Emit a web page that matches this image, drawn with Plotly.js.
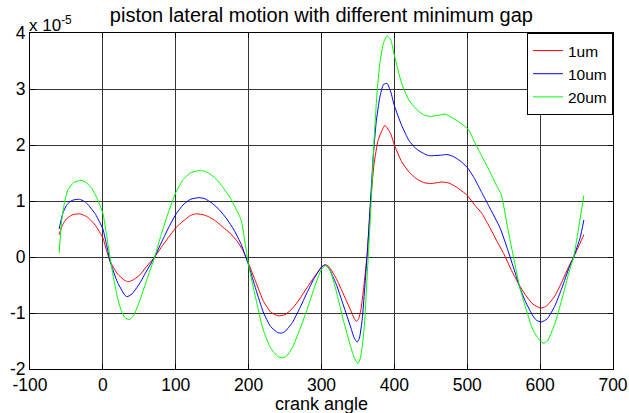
<!DOCTYPE html>
<html>
<head>
<meta charset="utf-8">
<script src="https://cdn.plot.ly/plotly-3.0.1.min.js"></script>
<style>html,body{margin:0;padding:0;background:#fff;}#chart{width:629px;height:413px;}</style>
</head>
<body>
<div id="chart"></div>
<script>
// values in units of 1e-5
const redX = [-60,-55,-50,-45,-40,-32,-25,-20,-10,0,5,10,20,30,35,40,50,60,71,80,90,100,110,120,127,136,145,155,165,175,185,192,200,210,220,230,240,250,260,270,280,290,300,305,310,320,330,340,345,348,351,354,358,363,367,372,378,387,395,400,410,420,430,440,450,460,465,475,485,500,510,520,530,540,550,560,570,580,590,600,605,610,620,630,640,646,655,660];
const redY = [0.40,0.58,0.68,0.73,0.76,0.77,0.74,0.70,0.56,0.34,0.12,-0.08,-0.30,-0.42,-0.44,-0.42,-0.33,-0.17,0.00,0.17,0.35,0.52,0.64,0.74,0.77,0.76,0.72,0.64,0.53,0.42,0.27,0.12,-0.12,-0.45,-0.78,-0.98,-1.05,-1.03,-0.92,-0.75,-0.55,-0.36,-0.18,-0.14,-0.17,-0.38,-0.66,-0.95,-1.10,-1.15,-1.10,-0.95,-0.54,0.10,0.90,1.65,2.10,2.35,2.20,2.00,1.70,1.52,1.40,1.33,1.31,1.33,1.34,1.32,1.25,1.10,0.93,0.78,0.55,0.30,0.06,-0.22,-0.47,-0.68,-0.84,-0.91,-0.90,-0.86,-0.70,-0.44,-0.15,0.00,0.25,0.40];

const blueX = [-60,-55,-50,-45,-40,-32,-25,-20,-10,0,5,10,20,30,33,40,50,60,71,80,90,100,110,120,132,140,150,160,170,180,190,200,210,220,230,240,245,250,260,270,280,290,300,305,310,320,330,340,345,349,352,356,359,363,367,371,375,380,385,390,395,400,410,420,430,440,447,455,465,472,480,490,500,510,520,530,545,555,565,572,580,590,595,602,610,620,630,640,646,655,660];
const blueY = [0.50,0.78,0.92,0.99,1.02,1.03,0.99,0.93,0.76,0.50,0.22,-0.08,-0.45,-0.68,-0.71,-0.66,-0.48,-0.25,0.00,0.25,0.52,0.76,0.93,1.03,1.06,1.04,0.96,0.84,0.68,0.48,0.22,-0.15,-0.58,-0.98,-1.24,-1.35,-1.36,-1.33,-1.17,-0.92,-0.64,-0.38,-0.18,-0.14,-0.20,-0.48,-0.86,-1.25,-1.45,-1.52,-1.45,-1.10,-0.60,0.10,0.95,1.80,2.40,2.85,3.08,3.10,2.95,2.70,2.35,2.08,1.93,1.85,1.81,1.81,1.82,1.83,1.80,1.72,1.60,1.40,1.15,0.90,0.52,0.15,-0.25,-0.54,-0.80,-1.05,-1.13,-1.16,-1.10,-0.88,-0.55,-0.18,0.00,0.35,0.66];

const greenX = [-60,-57,-53,-48,-40,-30,-22,-15,-8,0,5,10,15,20,25,30,36,42,50,60,71,80,90,100,110,120,130,137,145,155,165,175,185,190,196,200,210,220,230,240,246,252,260,270,280,290,300,306,312,320,330,340,345,350,353,356,359,362,365,368,372,376,380,385,390,395,400,410,420,430,440,449,460,470,480,490,502,510,520,530,540,547,555,565,572,580,590,600,605,610,620,630,640,646,652,660];
const greenY = [0.07,0.60,0.95,1.20,1.33,1.37,1.32,1.22,1.05,0.78,0.40,-0.02,-0.40,-0.72,-0.95,-1.08,-1.12,-1.05,-0.80,-0.42,0.00,0.40,0.80,1.15,1.38,1.50,1.54,1.54,1.50,1.40,1.24,1.05,0.80,0.65,0.18,-0.15,-0.75,-1.30,-1.62,-1.78,-1.80,-1.77,-1.62,-1.30,-0.95,-0.55,-0.22,-0.15,-0.25,-0.60,-1.13,-1.60,-1.80,-1.90,-1.82,-1.60,-1.20,-0.50,0.20,0.95,2.05,2.90,3.45,3.82,3.95,3.88,3.60,3.10,2.80,2.64,2.54,2.51,2.53,2.55,2.48,2.40,2.27,2.05,1.80,1.55,1.28,1.10,0.55,-0.10,-0.54,-0.90,-1.30,-1.50,-1.54,-1.50,-1.20,-0.75,-0.25,0.00,0.45,1.10];

const seriesNames = ['1um','10um','20um'];
const xTicks = [-100,0,100,200,300,400,500,600,700];
const yTicks = [-2,-1,0,1,2,3,4];

const FONT = 'Liberation Sans, Arial, sans-serif';
const lbl = v => String(v).replace('\u2212','-');

const colors = ['#ff0000','#0000ff','#00ff00'];
const traces = [[redX, redY], [blueX, blueY], [greenX, greenY]].map((d, i) => ({
  type: 'scatter', mode: 'lines', x: d[0], y: d[1], name: seriesNames[i],
  line: {color: colors[i], width: 1, shape: 'spline', smoothing: 0.5}
}));

const axisCommon = {
  showline: true, linecolor: '#000', linewidth: 1, mirror: 'ticks',
  ticks: 'inside', ticklen: 5, tickcolor: '#000',
  showgrid: true, gridcolor: '#333', gridwidth: 1,
  zeroline: false, tickfont: {family: FONT, size: 17.5, color: '#000'}
};

const layout = {
  width: 629, height: 413,
  margin: {l: 30, r: 16, t: 33, b: 44},
  paper_bgcolor: '#fff', plot_bgcolor: '#fff',
  font: {family: FONT, color: '#000'},
  title: {text: 'piston lateral motion with different minimum gap', font: {family: FONT, size: 20, color: '#000'}, x: 0.511, xanchor: 'center', y: 0.963, yanchor: 'middle', yref: 'container'},
  xaxis: Object.assign({}, axisCommon, {range: [-100, 700], tickvals: xTicks, ticktext: xTicks.map(lbl)}),
  yaxis: Object.assign({}, axisCommon, {range: [-2, 4], tickvals: yTicks, ticktext: yTicks.map(lbl)}),
  showlegend: true,
  legend: {x: 1, xanchor: 'right', y: 1, yanchor: 'top', bgcolor: '#fff', bordercolor: '#000', borderwidth: 1,
    font: {family: FONT, size: 15.5, color: '#000'}, tracegroupgap: 0, itemwidth: 30},
  annotations: [
    {xref: 'paper', yref: 'paper', x: 0, y: 1, xanchor: 'left', yanchor: 'bottom', showarrow: false,
     text: 'x 10<sup>-5</sup>', font: {family: FONT, size: 17, color: '#000'}, xshift: -3, yshift: -4},
    {xref: 'paper', yref: 'paper', x: 0.5, y: 0, xanchor: 'center', yanchor: 'top', showarrow: false,
     text: 'crank angle', font: {family: FONT, size: 18, color: '#000'}, yshift: -23}
  ]
};

Plotly.newPlot('chart', traces, layout, {displayModeBar: false, staticPlot: true});
</script>
</body>
</html>
